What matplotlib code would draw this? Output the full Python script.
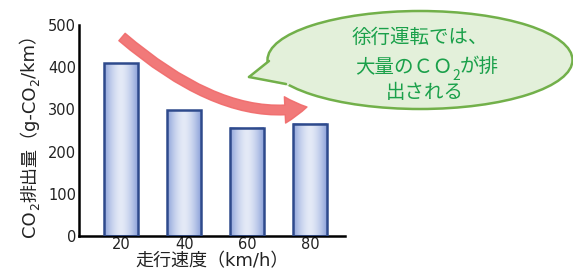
import numpy as np
import matplotlib.pyplot as plt
from matplotlib.patches import Ellipse, Polygon, FancyArrowPatch
from matplotlib.path import Path
from matplotlib.colors import LinearSegmentedColormap

plt.rcParams['font.family'] = ['DejaVu Sans', 'Noto Sans CJK JP']

# data
speeds = ['20', '40', '60', '80']
co2_emission = [409, 298, 256, 266]
y_ticks = [0, 100, 200, 300, 400, 500]

W, H = 573, 272
fig = plt.figure(figsize=(W / 100, H / 100), dpi=100)
renderer = fig.canvas.get_renderer()


def px(x, y):
    # pixel position (from top-left) -> figure fraction
    return (x / W, 1 - y / H)


ax = fig.add_axes([79 / W, 36 / H, 266 / W, 211 / H])
xpos = np.arange(len(speeds))
bars = ax.bar(xpos, co2_emission, width=0.54, facecolor='none',
              edgecolor='#2e4a8c', linewidth=1.8, zorder=3)

# gradient fill inside each bar
cmap = LinearSegmentedColormap.from_list('barfill', ['#8ea3da', '#e4eaf7'])
grad = 1 - np.abs(np.linspace(-1, 1, 64)) ** 1.6
for rect in bars:
    x0, w, h = rect.get_x(), rect.get_width(), rect.get_height()
    ax.imshow(grad[np.newaxis, :], extent=[x0, x0 + w, 0, h], aspect='auto',
              cmap=cmap, zorder=2, clip_path=rect, clip_on=True)

ax.set_xlim(-0.675, 3.55)
ax.set_ylim(0, 500)
ax.set_xticks(xpos)
ax.set_xticklabels(speeds)
ax.set_yticks(y_ticks)
ax.tick_params(length=0, labelsize=10.5, colors='#222222')
ax.tick_params(axis='y', pad=2)
ax.tick_params(axis='x', pad=1)
for s in ['top', 'right']:
    ax.spines[s].set_visible(False)
for s in ['left', 'bottom']:
    ax.spines[s].set_linewidth(1.8)
    ax.spines[s].set_color('black')

ax.set_xlabel('走行速度（km/h）', fontsize=13, labelpad=0, color='#222222')

# y label built piece by piece so the subscripts get a proper size
ylabel_parts = [('CO', False), ('2', True), ('排出量（g-CO', False),
                ('2', True), ('/km）', False)]
base_x, cur_y = 35, 237
for part, is_sub in ylabel_parts:
    size = 9 if is_sub else 13
    xx = base_x + (4 if is_sub else 0)
    t = fig.text(*px(xx, cur_y), part, rotation=90, rotation_mode='anchor',
                 ha='left', va='baseline', fontsize=size, color='#222222')
    cur_y -= t.get_window_extent(renderer).height

# red trend arrow
arrow_path = Path([px(122, 37), px(225, 125), px(307, 107)],
                  [Path.MOVETO, Path.CURVE3, Path.CURVE3])
arrow = FancyArrowPatch(path=arrow_path, transform=fig.transFigure,
                        arrowstyle='simple,head_length=16,head_width=19,tail_width=7',
                        color='#f06a6a', alpha=0.9, zorder=5)
fig.patches.append(arrow)

# speech bubble
fill_c, edge_c = '#e3f0da', '#72b04a'
ell = Ellipse(px(420, 60), 305 / W, 98 / H, transform=fig.transFigure,
              facecolor=fill_c, edgecolor=edge_c, linewidth=1.8, zorder=6)
fig.patches.append(ell)
tail = Polygon([px(272, 58), px(249, 77), px(288, 86), px(300, 70)],
               closed=True, transform=fig.transFigure, facecolor=fill_c,
               edgecolor='none', zorder=7)
fig.patches.append(tail)
for a, b in [((249, 77), (269, 61)), ((249, 77), (286, 84))]:
    p0, p1 = px(*a), px(*b)
    fig.add_artist(plt.Line2D([p0[0], p1[0]], [p0[1], p1[1]], color=edge_c,
                              linewidth=1.8, zorder=8, solid_capstyle='round',
                              transform=fig.transFigure))

green = '#1aa04a'
cjk = ['Noto Sans CJK JP', 'DejaVu Sans']
fig.text(*px(420, 37), '徐行運転では、', ha='center', va='center',
         fontsize=14, color=green, zorder=9, family=cjk)
fig.text(*px(425, 92), '出される', ha='center', va='center',
         fontsize=14, color=green, zorder=9, family=cjk)

# second bubble line with a real subscript
line2_parts = [('大量のＣＯ', False), ('2', True), ('が排', False)]
pieces = []
for part, is_sub in line2_parts:
    t = fig.text(0, 0, part, ha='left', va='baseline', fontsize=10 if is_sub else 14,
                 color=green, zorder=9, family=cjk)
    pieces.append((t, is_sub))
total_w = sum(t.get_window_extent(renderer).width for t, _ in pieces)
cur_x = 427 - total_w / 2
for t, is_sub in pieces:
    t.set_position(px(cur_x, 72 + (8 if is_sub else 0)))
    cur_x += t.get_window_extent(renderer).width

fig.savefig('out.png', dpi=100)
